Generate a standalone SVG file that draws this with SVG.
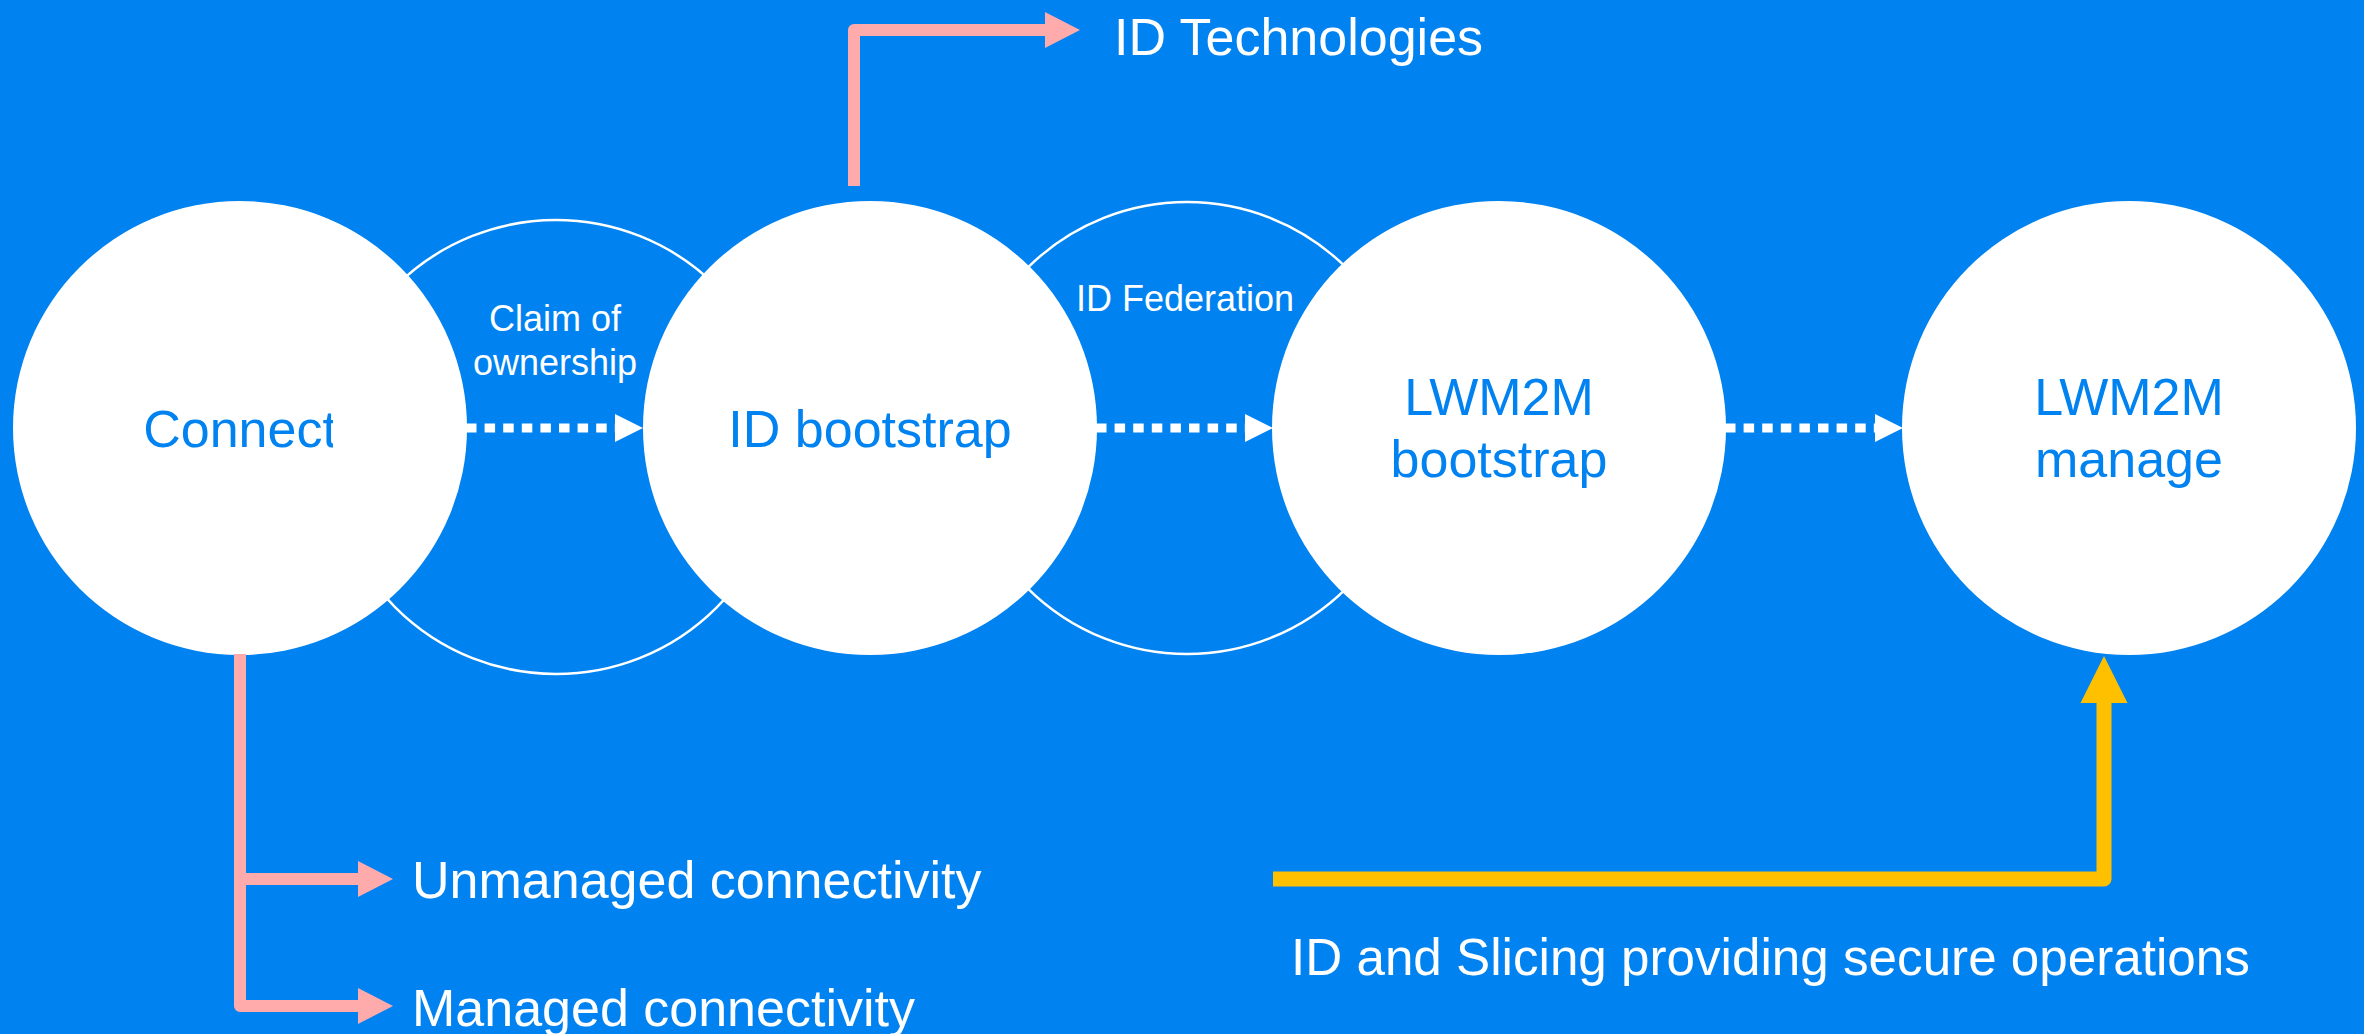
<svg xmlns="http://www.w3.org/2000/svg" width="2364" height="1034" viewBox="0 0 2364 1034">
  <style>
    .node { fill: #ffffff; }
    .ring { fill: none; stroke: #ffffff; stroke-width: 2.5; }
    .label { font-family: "Liberation Sans", Arial, sans-serif; font-size: 52px; fill: #0082f0; text-anchor: middle; }
    .note { font-family: "Liberation Sans", Arial, sans-serif; font-size: 36px; fill: #ffffff; text-anchor: middle; }
    .caption { font-family: "Liberation Sans", Arial, sans-serif; font-size: 52px; fill: #ffffff; }
    .flow { fill: none; stroke: #ffffff; stroke-width: 9; stroke-dasharray: 10.5 8.1; }
    .pink { fill: none; stroke: #ffabab; stroke-width: 12; stroke-linejoin: round; }
    .amber { fill: none; stroke: #ffc000; stroke-width: 15; stroke-linejoin: round; }
  </style>
  <defs>
    <marker id="head-white" markerUnits="userSpaceOnUse" markerWidth="28" markerHeight="28" refX="0" refY="14" orient="auto" overflow="visible">
      <path d="M0,0 L28,14 L0,28 Z" fill="#ffffff"/>
    </marker>
    <marker id="head-pink" markerUnits="userSpaceOnUse" markerWidth="36" markerHeight="36" refX="0" refY="18" orient="auto" overflow="visible">
      <path d="M0,0 L35,18 L0,36 Z" fill="#ffabab"/>
    </marker>
    <marker id="head-amber" markerUnits="userSpaceOnUse" markerWidth="47" markerHeight="47" refX="0" refY="23.5" orient="auto" overflow="visible">
      <path d="M0,0 L47,23.5 L0,47 Z" fill="#ffc000"/>
    </marker>
    <clipPath id="clip-connect">
      <rect x="0" y="350" width="333" height="150"/>
    </clipPath>
  </defs>

  <rect x="0" y="0" width="2364" height="1034" fill="#0082f0"/>

  <!-- overlap rings between stages -->
  <g id="ring-ownership">
    <circle class="ring" cx="556" cy="447" r="227"/>
    <text class="note" x="555" y="331">Claim of</text>
    <text class="note" x="555" y="375">ownership</text>
  </g>
  <g id="ring-federation">
    <circle class="ring" cx="1187" cy="428" r="226"/>
    <text class="note" x="1185" y="311">ID Federation</text>
  </g>

  <!-- stage nodes -->
  <g id="node-connect">
    <circle class="node" cx="240" cy="428" r="227"/>
    <text class="label" x="240" y="447" clip-path="url(#clip-connect)">Connect</text>
  </g>
  <g id="node-id-bootstrap">
    <circle class="node" cx="870" cy="428" r="227"/>
    <text class="label" x="870" y="447">ID bootstrap</text>
  </g>
  <g id="node-lwm2m-bootstrap">
    <circle class="node" cx="1499" cy="428" r="227"/>
    <text class="label" x="1499" y="415">LWM2M</text>
    <text class="label" x="1499" y="477">bootstrap</text>
  </g>
  <g id="node-lwm2m-manage">
    <circle class="node" cx="2129" cy="428" r="227"/>
    <text class="label" x="2129" y="415">LWM2M</text>
    <text class="label" x="2129" y="477">manage</text>
  </g>

  <!-- connectors -->
  <g id="connectors">
    <line class="flow" x1="466" y1="428" x2="615" y2="428" marker-end="url(#head-white)"/>
    <line class="flow" x1="1096" y1="428" x2="1245" y2="428" marker-end="url(#head-white)"/>
    <line class="flow" x1="1725" y1="428" x2="1875" y2="428" marker-end="url(#head-white)"/>

    <path class="pink" d="M854,186 V30 H1045" marker-end="url(#head-pink)"/>
    <path class="pink" d="M240,654 V1006 H358" marker-end="url(#head-pink)"/>
    <path class="pink" d="M240,879 H358" marker-end="url(#head-pink)"/>

    <path class="amber" d="M1273,879 H2104 V703" marker-end="url(#head-amber)"/>
  </g>

  <!-- side labels -->
  <g id="label-id-technologies">
    <text class="caption" x="1114" y="55">ID Technologies</text>
  </g>
  <g id="label-unmanaged">
    <text class="caption" x="412" y="898">Unmanaged connectivity</text>
  </g>
  <g id="label-managed">
    <text class="caption" x="412" y="1026">Managed connectivity</text>
  </g>
  <g id="label-secure-ops">
    <text class="caption" x="1291" y="975" style="font-size:51.2px">ID and Slicing providing secure operations</text>
  </g>
</svg>
